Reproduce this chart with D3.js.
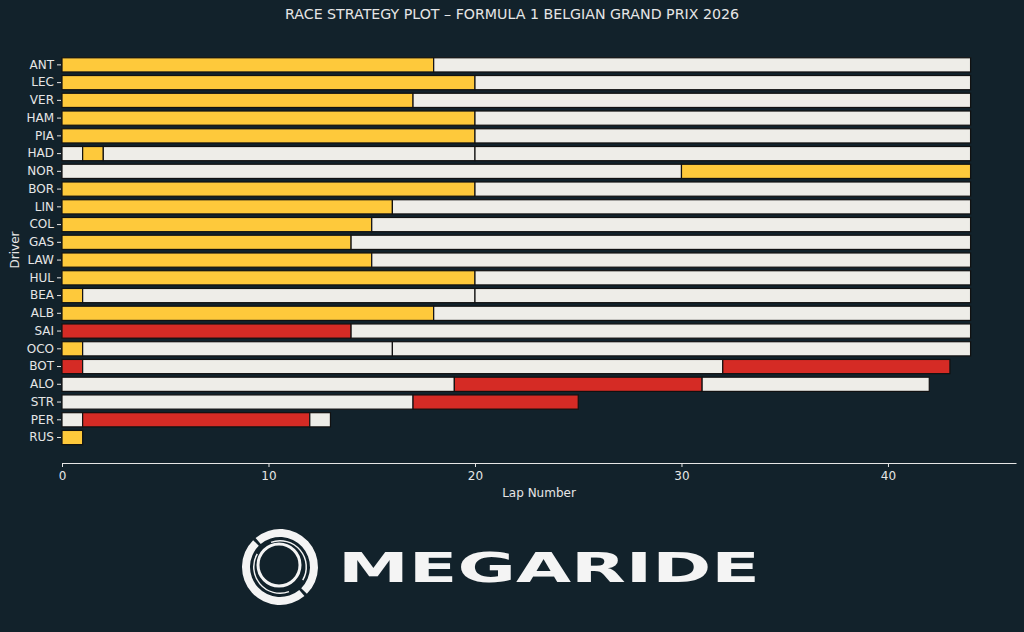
<!DOCTYPE html>
<html>
<head>
<meta charset="utf-8">
<script src="https://cdn.jsdelivr.net/npm/d3@7"></script>
<style>
  html, body { margin: 0; padding: 0; background: #12222b; }
  svg { display: block; }
  text { font-family: "DejaVu Sans", sans-serif; fill: #e6e6e6; }
</style>
</head>
<body>
<svg id="chart" width="1024" height="632"></svg>
<script>
// drivers from top to bottom
const drivers = ['ANT', 'LEC', 'VER', 'HAM', 'PIA', 'HAD', 'NOR', 'BOR', 'LIN', 'COL', 'GAS',
  'LAW', 'HUL', 'BEA', 'ALB', 'SAI', 'OCO', 'BOT', 'ALO', 'STR', 'PER', 'RUS'];

// stint lengths (laps) for each driver, same order
const stintLaps = [
  [18, 26], [20, 24], [17, 27], [20, 24], [20, 24], [1, 1, 18, 24], [30, 14], [20, 24],
  [16, 28], [15, 29], [14, 30], [15, 29], [20, 24], [1, 19, 24], [18, 26], [14, 30],
  [1, 15, 28], [1, 31, 11], [19, 12, 11], [17, 8], [1, 11, 1], [1]
];

// compound of each stint
const stintCompounds = [
  ['MEDIUM', 'HARD'], ['MEDIUM', 'HARD'], ['MEDIUM', 'HARD'], ['MEDIUM', 'HARD'], ['MEDIUM', 'HARD'],
  ['HARD', 'MEDIUM', 'HARD', 'HARD'], ['HARD', 'MEDIUM'], ['MEDIUM', 'HARD'], ['MEDIUM', 'HARD'],
  ['MEDIUM', 'HARD'], ['MEDIUM', 'HARD'], ['MEDIUM', 'HARD'], ['MEDIUM', 'HARD'],
  ['MEDIUM', 'HARD', 'HARD'], ['MEDIUM', 'HARD'], ['SOFT', 'HARD'], ['MEDIUM', 'HARD', 'HARD'],
  ['SOFT', 'HARD', 'SOFT'], ['HARD', 'SOFT', 'HARD'], ['HARD', 'SOFT'], ['HARD', 'SOFT', 'HARD'],
  ['MEDIUM']
];

const xTicks = [0, 10, 20, 30, 40];
const totalLaps = 44;

const compoundColor = {
  SOFT: '#d52b25',
  MEDIUM: '#fec93b',
  HARD: '#eeede8'
};

// flatten stints into rows
const stints = [];
drivers.forEach((drv, i) => {
  let start = 0;
  stintLaps[i].forEach((len, j) => {
    stints.push({ driver: drv, start: start, end: start + len, compound: stintCompounds[i][j] });
    start += len;
  });
});

const svg = d3.select('#chart');

const x = d3.scaleLinear()
  .domain([0, totalLaps * 1.05])
  .range([62, 1016]);

const y = d3.scaleBand()
  .domain(drivers)
  .range([56, 446.4])
  .paddingInner(0.2)
  .paddingOuter(0.1);

// title
svg.append('text')
  .attr('x', 512)
  .attr('y', 19)
  .attr('text-anchor', 'middle')
  .style('font-size', '14.2px')
  .text('RACE STRATEGY PLOT – FORMULA 1 BELGIAN GRAND PRIX 2026');

// bars
svg.append('g')
  .selectAll('rect')
  .data(stints)
  .join('rect')
  .attr('x', d => x(d.start))
  .attr('y', d => y(d.driver))
  .attr('width', d => x(d.end) - x(d.start))
  .attr('height', y.bandwidth())
  .attr('fill', d => compoundColor[d.compound])
  .attr('stroke', '#111')
  .attr('stroke-width', 1.2);

// y axis (no spine)
const yAxis = svg.append('g')
  .attr('transform', 'translate(61,0)')
  .call(d3.axisLeft(y).tickSize(4).tickPadding(3));
yAxis.select('.domain').remove();
yAxis.selectAll('line').attr('stroke', '#e6e6e6');
yAxis.selectAll('text').style('font-size', '12px').attr('fill', '#e6e6e6');

// x axis
const xAxis = svg.append('g')
  .attr('transform', 'translate(0,463)')
  .call(d3.axisBottom(x).tickValues(xTicks).tickSize(4).tickPadding(4).tickSizeOuter(0));
xAxis.select('.domain').attr('stroke', '#e6e6e6').attr('stroke-width', 1.2);
xAxis.selectAll('line').attr('stroke', '#e6e6e6');
xAxis.selectAll('text').style('font-size', '12px').attr('fill', '#e6e6e6');

// axis labels
svg.append('text')
  .attr('x', 539)
  .attr('y', 497)
  .attr('text-anchor', 'middle')
  .style('font-size', '12px')
  .text('Lap Number');

svg.append('text')
  .attr('transform', 'translate(19,250) rotate(-90)')
  .attr('text-anchor', 'middle')
  .style('font-size', '12px')
  .text('Driver');

// logo
const logo = svg.append('g').attr('transform', 'translate(280,567)');
const arc = d3.arc();
const deg = Math.PI / 180;
// outer swooshes
[[-40, 135], [140, 315]].forEach(([a0, a1]) => {
  logo.append('path')
    .attr('d', arc({ innerRadius: 30, outerRadius: 38, startAngle: a0 * deg, endAngle: a1 * deg }))
    .attr('fill', '#f4f4f4');
});
// thin inner swirls
[[-20, 120], [160, 300]].forEach(([a0, a1]) => {
  logo.append('path')
    .attr('d', arc({ innerRadius: 25.5, outerRadius: 27, startAngle: a0 * deg, endAngle: a1 * deg }))
    .attr('fill', '#f4f4f4');
});
// inner ring
logo.append('circle')
  .attr('cx', -1)
  .attr('cy', -2)
  .attr('r', 21)
  .attr('fill', 'none')
  .attr('stroke', '#f4f4f4')
  .attr('stroke-width', 3);

svg.append('text')
  .attr('x', 338)
  .attr('y', 582)
  .attr('textLength', 422)
  .attr('lengthAdjust', 'spacingAndGlyphs')
  .style('font-size', '41px')
  .style('font-weight', 'bold')
  .style('fill', '#f4f4f4')
  .text('MEGARIDE');
</script>
</body>
</html>
